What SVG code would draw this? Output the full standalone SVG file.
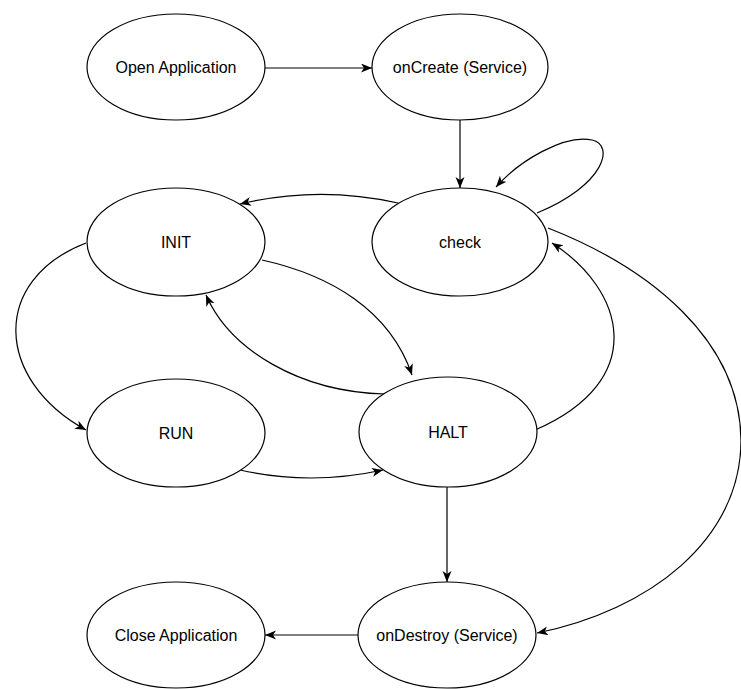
<svg xmlns="http://www.w3.org/2000/svg" width="741" height="689" viewBox="0 0 741 689">
<style>
.node ellipse{fill:#fff;stroke:#000;stroke-width:1.2}
.node text{font-family:"Liberation Sans",Arial,sans-serif;font-size:16px;fill:#000;text-anchor:middle}
.edges path{fill:none;stroke:#000;stroke-width:1.2;marker-end:url(#arr)}
</style>
<defs>
<marker id="arr" markerUnits="userSpaceOnUse" markerWidth="12" markerHeight="10" refX="11" refY="4.5" orient="auto">
<path d="M0,0 L11,4.5 L0,9 L3,4.5 z" fill="#000"/>
</marker>
</defs>
<rect width="741" height="689" fill="#fff"/>
<g class="edges">
<path d="M264,68 L372,68"/>
<path d="M460,120 L460,188"/>
<path d="M537,213 C605,185 615,145 592,140 C565,134 520,160 496,187"/>
<path d="M398,203 C340,190 290,192 240,204"/>
<path d="M86,243 C-10,280 -5,380 86,430"/>
<path d="M262,260 C330,275 390,310 412,375"/>
<path d="M385,394 C300,392 230,350 206,295"/>
<path d="M240,470 Q310,486 383,470"/>
<path d="M535,430 C650,380 625,290 552,243"/>
<path d="M548,228 C650,268 740,340 741,440 C741,540 650,610 537,633"/>
<path d="M447,487 L447,582"/>
<path d="M358,635 L265,635"/>
</g>
<g id="open" class="node"><ellipse cx="176" cy="67" rx="89" ry="53"/><text x="176" y="73">Open Application</text></g>
<g id="oncreate" class="node"><ellipse cx="460" cy="67" rx="88" ry="53"/><text x="460" y="73">onCreate (Service)</text></g>
<g id="init" class="node"><ellipse cx="176" cy="242" rx="89" ry="54"/><text x="176" y="248">INIT</text></g>
<g id="check" class="node"><ellipse cx="460" cy="242" rx="88" ry="54"/><text x="460" y="248">check</text></g>
<g id="run" class="node"><ellipse cx="176" cy="433" rx="89" ry="54"/><text x="176" y="439">RUN</text></g>
<g id="halt" class="node"><ellipse cx="448" cy="432" rx="89" ry="55"/><text x="448" y="438">HALT</text></g>
<g id="close" class="node"><ellipse cx="176" cy="635" rx="89" ry="53"/><text x="176" y="641">Close Application</text></g>
<g id="ondestroy" class="node"><ellipse cx="447" cy="635" rx="89" ry="53"/><text x="447" y="641">onDestroy (Service)</text></g>
</svg>
